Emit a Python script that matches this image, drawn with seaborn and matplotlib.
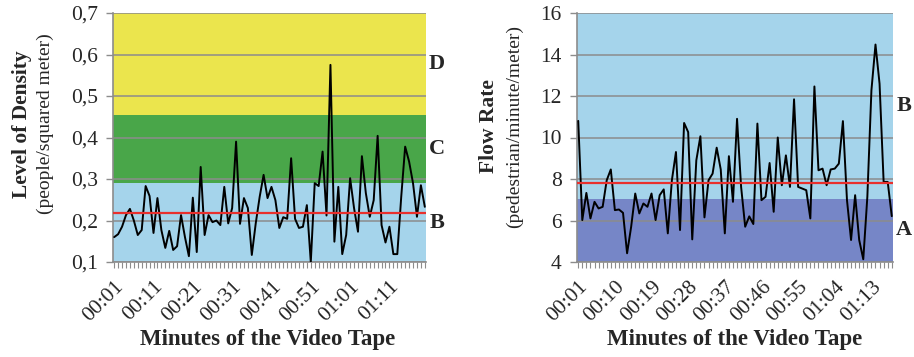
import numpy as np
import pandas as pd
import matplotlib
matplotlib.use("Agg")
import matplotlib.pyplot as plt
import seaborn as sns

# ---------------- data ----------------
density = [0.16, 0.167, 0.185, 0.213, 0.228, 0.2, 0.165, 0.177, 0.283, 0.259,
           0.17, 0.254, 0.177, 0.134, 0.175, 0.129, 0.138, 0.213, 0.16, 0.114,
           0.255, 0.124, 0.329, 0.165, 0.213, 0.196, 0.2, 0.189, 0.281, 0.193,
           0.23, 0.39, 0.192, 0.254, 0.23, 0.117, 0.193, 0.257, 0.31, 0.254,
           0.281, 0.249, 0.182, 0.208, 0.204, 0.35, 0.204, 0.182, 0.185, 0.237,
           0.1, 0.29, 0.283, 0.366, 0.212, 0.575, 0.149, 0.281, 0.119, 0.165,
           0.302, 0.23, 0.173, 0.355, 0.266, 0.209, 0.249, 0.404, 0.189, 0.147,
           0.185, 0.119, 0.119, 0.257, 0.378, 0.342, 0.29, 0.209, 0.285, 0.233]

flow = [10.8, 6.02, 7.33, 6.1, 6.9, 6.58, 6.66, 7.94, 8.46, 6.5,
        6.53, 6.37, 4.42, 5.7, 7.3, 6.34, 6.82, 6.66, 7.3, 6.02,
        7.22, 7.5, 5.38, 7.94, 9.3, 5.54, 10.7, 10.26, 5.09, 8.9,
        10.06, 6.15, 7.94, 8.26, 9.51, 8.46, 5.38, 9.1, 6.9, 10.9,
        7.62, 5.7, 6.2, 5.83, 10.67, 6.98, 7.14, 8.77, 6.42, 10.0,
        7.7, 9.14, 7.62, 11.84, 7.62, 7.54, 7.46, 6.1, 12.46, 8.42,
        8.5, 7.7, 8.46, 8.5, 8.74, 10.79, 6.98, 5.06, 7.22, 5.06,
        4.13, 7.14, 12.27, 14.48, 12.59, 7.86, 7.86, 6.21]

density_ticklabels = ["00:01", "00:11", "00:21", "00:31", "00:41", "00:51", "01:01", "01:11"]
density_tick_step = 10
flow_ticklabels = ["00:01", "00:10", "00:19", "00:28", "00:37", "00:46", "00:55", "01:04", "01:13"]
flow_tick_step = 9

density_levels = [("B", 0.10, 0.29, "#a5d4eb"),
                  ("C", 0.29, 0.455, "#49a649"),
                  ("D", 0.455, 0.70, "#ebe54d")]
flow_levels = [("A", 4.0, 7.05, "#7686c7"),
               ("B", 7.05, 16.0, "#a5d4eb")]
density_mean = 0.218
flow_mean = 7.83

density_yticks = [0.1, 0.2, 0.3, 0.4, 0.5, 0.6, 0.7]
density_yticklabels = ["0,1", "0,2", "0,3", "0,4", "0,5", "0,6", "0,7"]
flow_yticks = [4, 6, 8, 10, 12, 14, 16]
flow_yticklabels = ["4", "6", "8", "10", "12", "14", "16"]

# ---------------- style ----------------
sns.set_theme(style="white")
plt.rcParams["font.family"] = ["Liberation Serif", "DejaVu Serif"]

W, H = 914, 357
fig = plt.figure(figsize=(W / 100, H / 100), dpi=100)

GRID = "#8c8c8c"


def px_axes(x0, x1, y0, y1):
    return fig.add_axes([x0 / W, 1 - y1 / H, (x1 - x0) / W, (y1 - y0) / H])


def draw_panel(ax, values, levels, mean, yticks, yticklabels, ticklabels, step):
    n = len(values)
    df = pd.DataFrame({"idx": np.arange(n), "val": values})
    for name, lo, hi, col in levels:
        ax.axhspan(lo, hi, color=col, lw=0, zorder=1)
    sns.lineplot(data=df, x="idx", y="val", ax=ax, color="black", lw=1.4, zorder=3)
    ax.axhline(mean, color="#e8302d", lw=1.6, zorder=4)
    ax.set_xlim(-0.3, n - 1 + 0.3)
    ax.set_ylim(yticks[0], yticks[-1])
    ax.set_yticks(yticks)
    ax.set_yticklabels(yticklabels, fontsize=15.5)
    ax.set_axisbelow("line")
    ax.yaxis.grid(True, color=GRID, lw=1.1, zorder=1.5)
    ax.xaxis.grid(False)
    major = np.arange(0, step * len(ticklabels), step)
    ax.set_xticks(major)
    ax.set_xticklabels(ticklabels, fontsize=15.5, rotation=45, ha="right",
                       rotation_mode="anchor")
    ax.set_xticks(np.arange(n), minor=True)
    ax.tick_params(axis="x", which="both", length=4, width=0.8, color=GRID,
                   direction="out", bottom=True, pad=7)
    ax.tick_params(axis="y", length=5, width=1, color=GRID, direction="out",
                   left=True, pad=6)
    ax.set_xlabel("")
    ax.set_ylabel("")
    for s in ["top", "right"]:
        ax.spines[s].set_visible(False)
    for s in ["left", "bottom"]:
        ax.spines[s].set_color(GRID)
        ax.spines[s].set_linewidth(1.2)
    for name, lo, hi, col in levels:
        ax.text(1.035, (lo + hi) / 2, name, transform=ax.get_yaxis_transform(),
                ha="center", va="center", fontsize=16, fontweight="bold")


ax1 = px_axes(113, 426, 13, 262)
draw_panel(ax1, density, density_levels, density_mean, density_yticks,
           density_yticklabels, density_ticklabels, density_tick_step)
ax2 = px_axes(577, 893, 13, 262)
draw_panel(ax2, flow, flow_levels, flow_mean, flow_yticks,
           flow_yticklabels, flow_ticklabels, flow_tick_step)

# axis titles
fig.text(22 / W, 1 - 124 / H, "Level of Density", rotation=90, ha="center",
         va="center", fontsize=15.5, fontweight="bold")
fig.text(45 / W, 1 - 124 / H, "(people/squared meter)", rotation=90, ha="center",
         va="center", fontsize=14)
fig.text(489 / W, 1 - 126 / H, "Flow Rate", rotation=90, ha="center",
         va="center", fontsize=15.5, fontweight="bold")
fig.text(514 / W, 1 - 126 / H, "(pedestrian/minute/meter)", rotation=90, ha="center",
         va="center", fontsize=14)
fig.text(268 / W, 1 - 340 / H, "Minutes of the Video Tape", ha="center",
         va="center", fontsize=16.5, fontweight="bold")
fig.text(735 / W, 1 - 340 / H, "Minutes of the Video Tape", ha="center",
         va="center", fontsize=16.5, fontweight="bold")

fig.savefig("out.png", dpi=100)
